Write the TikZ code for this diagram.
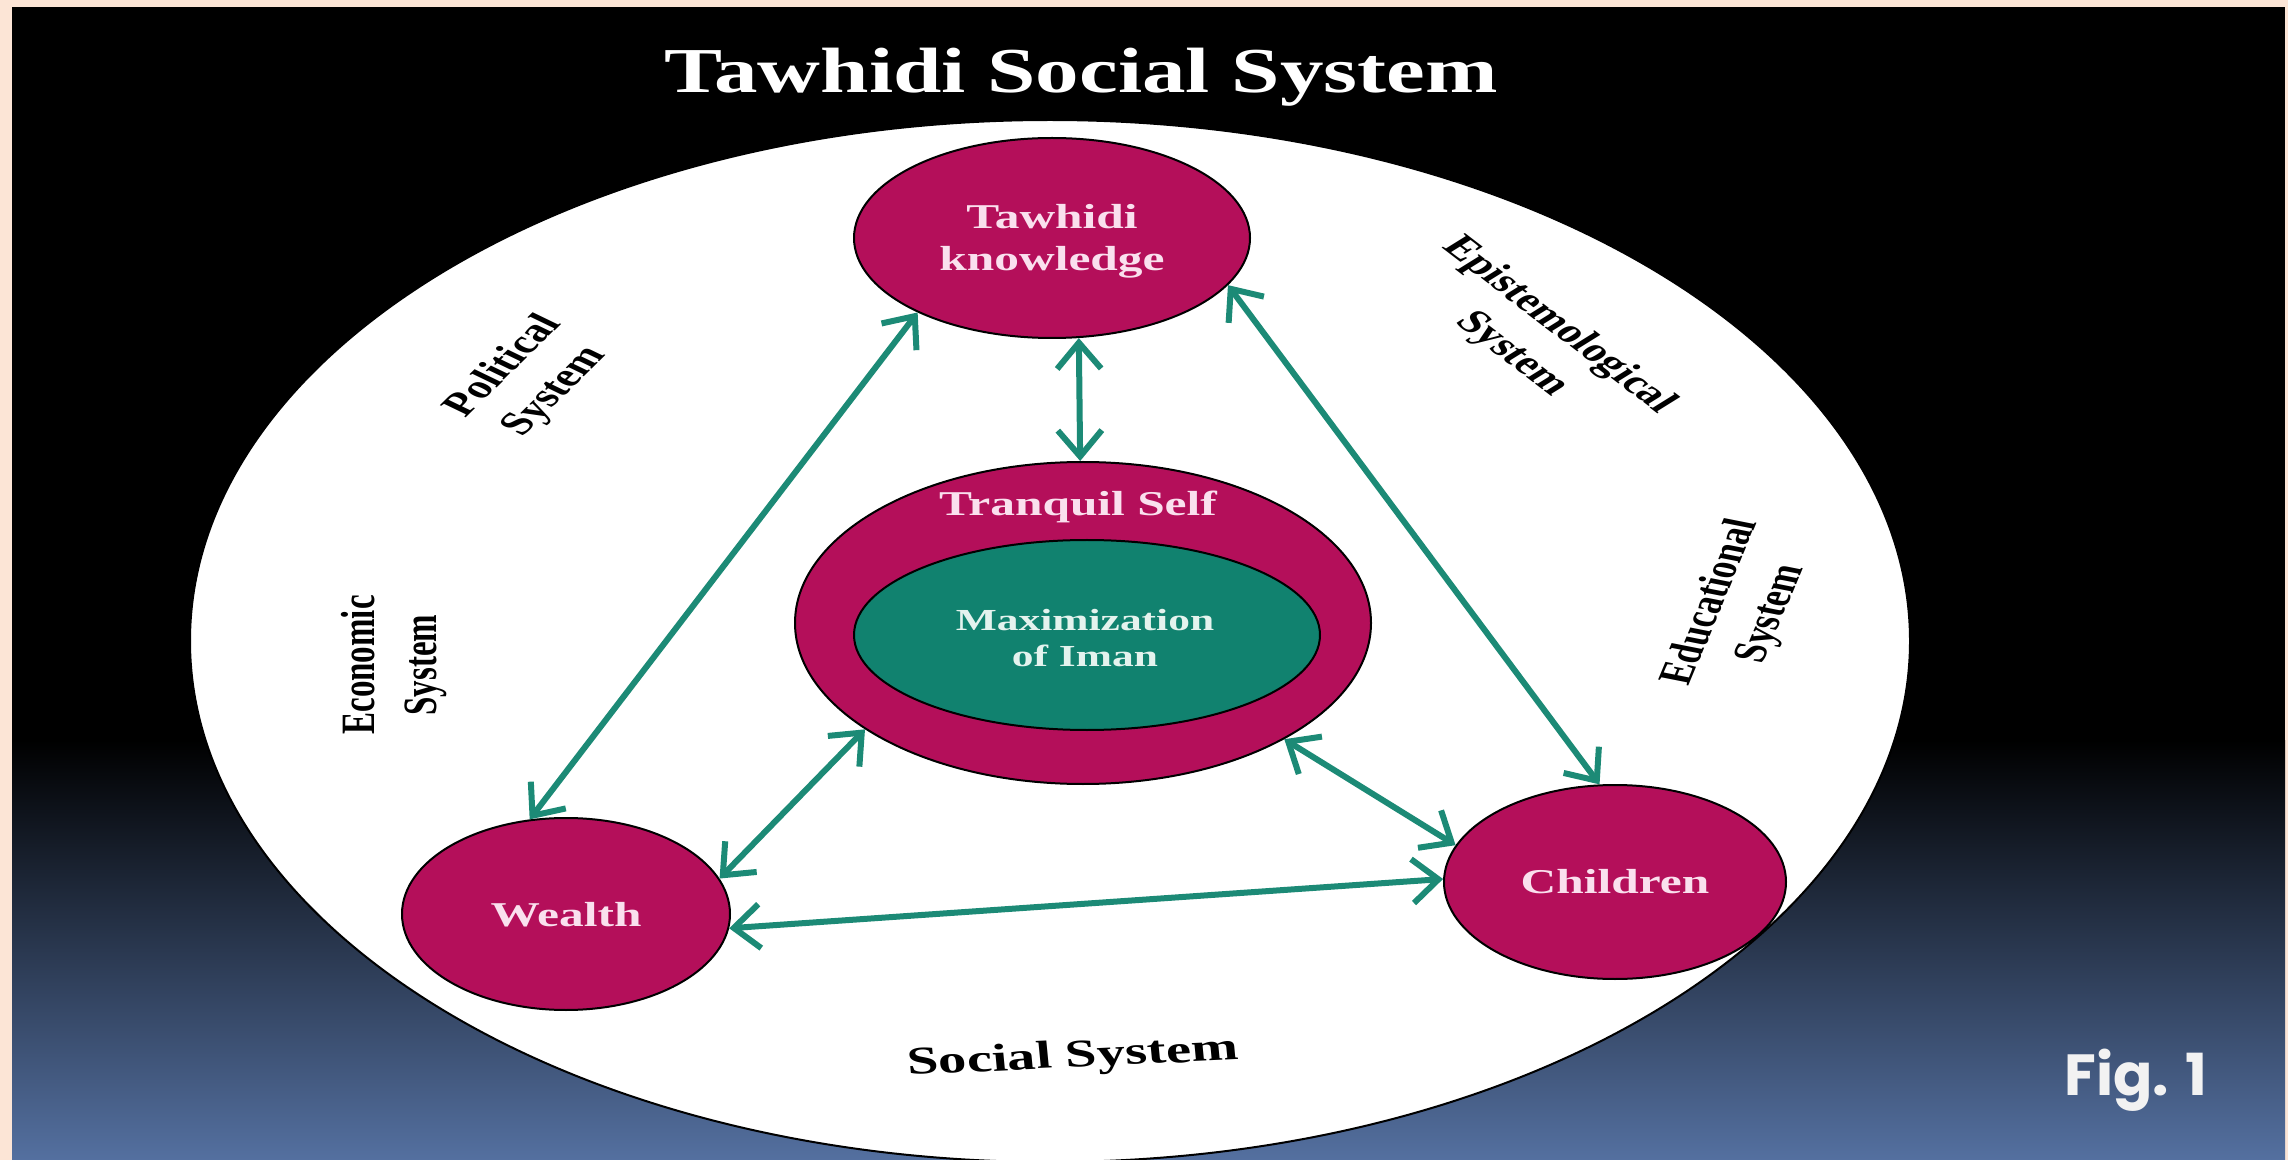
\documentclass[tikz,border=0pt]{standalone}
\usepackage{fontspec}
\setmainfont{Liberation Serif}
\newfontfamily\figfont{Poppins}
\usetikzlibrary{shapes.geometric,arrows.meta}
\definecolor{beige}{RGB}{252,229,214}
\definecolor{bgblue}{RGB}{84,112,160}
\definecolor{mag}{RGB}{180,15,90}
\definecolor{tealfill}{RGB}{17,130,111}
\definecolor{arrowteal}{RGB}{28,138,118}
\definecolor{pinkw}{RGB}{250,224,238}
\definecolor{tealw}{RGB}{228,243,238}
\definecolor{figw}{RGB}{242,242,242}
\begin{document}
\begin{tikzpicture}[x=0.5pt,y=0.5pt,
  bub/.style={ellipse, draw=black, line width=1pt, fill=mag, inner sep=0pt},
  inner/.style={ellipse, draw=black, line width=1pt, fill=tealfill, inner sep=0pt},
  conn/.style={draw=arrowteal, line width=3pt, >={Straight Barb[length=13pt,width=22pt]}, <->},
  ntxt/.style={xscale=1.42, align=center, inner sep=0pt, text=pinkw,
    font=\bfseries\fontsize{17.4}{21}\selectfont},
  lbl/.style={xscale=1.45, align=center, inner sep=0pt, text=black,
    font=\bfseries\fontsize{16.5}{21.5}\selectfont}]
\useasboundingbox (0,0) rectangle (2288,-1160);
% frame and background
\fill[beige] (0,0) rectangle (2288,-1160);
\fill[black] (12,-7) rectangle (2285,-742);
\shade[top color=black, bottom color=bgblue] (12,-740) rectangle (2285,-1160);
% big white ellipse
\begin{scope}
  \clip (12,-7) rectangle (2285,-1160);
  \filldraw[fill=white, draw=black, line width=1pt] (1050,-641) ellipse [x radius=430pt, y radius=260.5pt];
\end{scope}
% title
\node[anchor=base, xscale=1.36, inner sep=0pt, text=white,
  font=\bfseries\fontsize{32}{38}\selectfont] (title) at (1081,-93) {Tawhidi Social System};
% nodes
\node[bub, minimum width=198pt, minimum height=100pt] (tk) at (1052,-238) {};
\node[bub, minimum width=288pt, minimum height=161pt] (ts) at (1083,-623) {};
\node[inner, minimum width=233pt, minimum height=95pt] (mi) at (1087,-635) {};
\node[bub, minimum width=164pt, minimum height=96pt] (we) at (566,-914) {};
\node[bub, minimum width=171pt, minimum height=97pt] (ch) at (1615,-882) {};
% node texts
\node[ntxt] (tkT) at (1052,-241) {Tawhidi\\knowledge};
\node[ntxt, anchor=base] (tsT) at (1078,-516) {Tranquil Self};
\node[ntxt, text=tealw, font=\bfseries\fontsize{15.3}{18}\selectfont] (miT) at (1085,-638) {Maximization\\of Iman};
\node[ntxt] (weT) at (566,-915) {Wealth};
\node[ntxt] (chT) at (1615,-882) {Children};
% connectors
\draw[conn] (tk.209) -- (we.111);
\draw[conn] (tk.285) -- (ts.91);
\draw[conn] (tk.345) -- (ch.99);
\draw[conn] (ts.206) -- (we.13);
\draw[conn] (ts.330) -- (ch.167);
\draw[conn] (we.-5) -- (ch.179);
% system labels
\node[lbl, rotate=55] (pol) at (530,-379) {Political\\System};
\node[lbl, rotate=-48] (epi) at (1535,-340) {Epistemological\\System};
\node[lbl, rotate=90] (eco) at (394,-665) {Economic\\System};
\node[lbl, rotate=74] (edu) at (1742,-608) {Educational\\System};
\node[lbl, rotate=3.8, font=\bfseries\fontsize{19.5}{23}\selectfont] (soc) at (1073,-1058) {Social System};
% figure tag
\node[anchor=base, inner sep=0pt, text=figw, font=\figfont\bfseries\fontsize{29}{34}\selectfont] (fig) at (2136,-1095) {Fig. 1};
\end{tikzpicture}
\end{document}
